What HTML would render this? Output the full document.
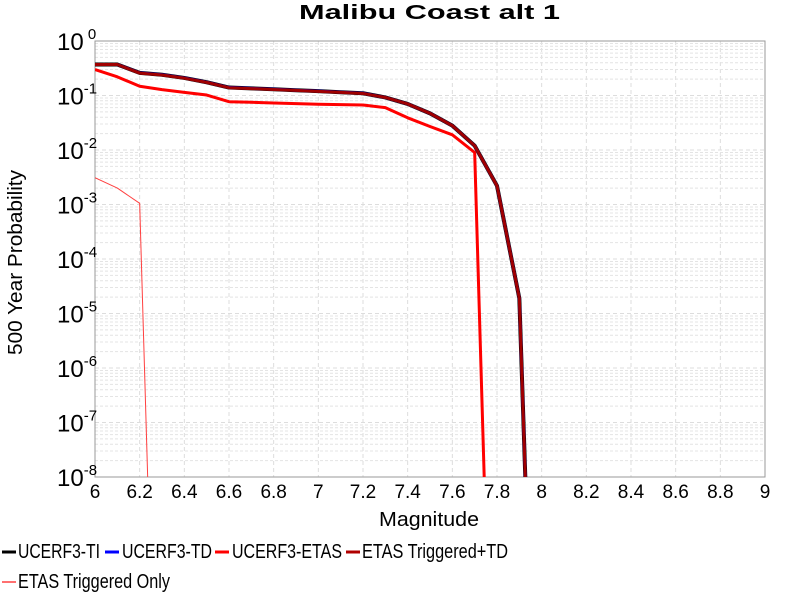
<!DOCTYPE html>
<html><head><meta charset="utf-8"><style>
html,body{margin:0;background:#fff;width:800px;height:600px;overflow:hidden}
svg{font-family:"Liberation Sans",sans-serif;display:block}
</style></head><body>
<svg id="c" width="800" height="600">
<text x="299" y="19" textLength="261" lengthAdjust="spacingAndGlyphs" font-size="20" font-weight="bold">Malibu Coast alt 1</text>
<g id="grid"></g>
<rect x="95" y="41" width="670" height="436" fill="none" stroke="#999"/>
<defs><clipPath id="clip"><rect x="95" y="41" width="670" height="436"/></clipPath></defs>
<g id="series" clip-path="url(#clip)"></g>
<g id="axes"></g>
<text x="379" y="526" textLength="100" lengthAdjust="spacingAndGlyphs" font-size="20">Magnitude</text>
<text transform="translate(22,355) rotate(-90)" textLength="185" lengthAdjust="spacingAndGlyphs" font-size="20">500 Year Probability</text>
<g font-size="20">
<g><line x1="2" y1="552" x2="16" y2="552" stroke="#000" stroke-width="3"/><text x="18" y="558" textLength="82" lengthAdjust="spacingAndGlyphs">UCERF3-TI</text></g>
<g><line x1="105" y1="552" x2="119" y2="552" stroke="#0000ff" stroke-width="3"/><text x="122" y="558" textLength="90" lengthAdjust="spacingAndGlyphs">UCERF3-TD</text></g>
<g><line x1="215" y1="552" x2="229" y2="552" stroke="#ff0000" stroke-width="3"/><text x="232" y="558" textLength="110" lengthAdjust="spacingAndGlyphs">UCERF3-ETAS</text></g>
<g><line x1="346" y1="552" x2="360" y2="552" stroke="#b00000" stroke-width="3"/><text x="362" y="558" textLength="146" lengthAdjust="spacingAndGlyphs">ETAS Triggered+TD</text></g>
<g><line x1="2" y1="582" x2="16" y2="582" stroke="#ff7070" stroke-width="2"/><text x="18" y="588" textLength="152" lengthAdjust="spacingAndGlyphs">ETAS Triggered Only</text></g>
</g>
</svg>
<script>
const mags=[6.0,6.1,6.2,6.3,6.4,6.5,6.6,6.7,6.8,6.9,7.0,7.1,7.2,7.3,7.4,7.5,7.6,7.7,7.8,7.9,8.0];
const ti=[0.37,0.37,0.26,0.24,0.21,0.175,0.14,0.135,0.13,0.125,0.12,0.115,0.11,0.092,0.07,0.047,0.028,0.012,0.0022,1.9e-5,1e-17];
const td=[0.37,0.37,0.26,0.24,0.21,0.175,0.14,0.135,0.13,0.125,0.12,0.115,0.11,0.092,0.07,0.047,0.028,0.012,0.0022,1.9e-5,1e-17];
const etas=[0.30,0.22,0.148,0.128,0.114,0.102,0.077,0.075,0.073,0.071,0.069,0.068,0.067,0.060,0.039,0.027,0.019,0.009,1e-16];
const trigTD=[0.37,0.37,0.258,0.238,0.208,0.174,0.139,0.134,0.129,0.124,0.119,0.114,0.109,0.092,0.07,0.047,0.028,0.012,0.0022,1.9e-5,1e-17];
const trigOnly=[0.0031,0.002,0.00105,1e-17];
const xTicks=["6","6.2","6.4","6.6","6.8","7","7.2","7.4","7.6","7.8","8","8.2","8.4","8.6","8.8","9"];
const yExps=["0","-1","-2","-3","-4","-5","-6","-7","-8"];
const X0=95,X1=765,Y0=41,Y1=477;
const xs=m=>X0+(m-6)/3*(X1-X0);
const ys=v=>Y0+(-Math.log10(v))/8*(Y1-Y0);
const NS="http://www.w3.org/2000/svg";
function mk(t,a,p){const e=document.createElementNS(NS,t);for(const k in a)e.setAttribute(k,a[k]);p.appendChild(e);return e;}
const grid=document.getElementById('grid'),axes=document.getElementById('axes'),ser=document.getElementById('series');
xTicks.forEach(t=>{const x=xs(+t);
 const l=mk('line',{x1:x,x2:x,y1:Y0,y2:Y1,stroke:'#ddd','stroke-dasharray':'4,3'},grid);
 
 
 const tx=mk('text',{x:x,y:498,'text-anchor':'middle','font-size':19},axes);tx.textContent=t;
 
 
});
yExps.forEach(e=>{const d=+e;const y=ys(Math.pow(10,d));
 for(let k=2;k<=9&&d>-8;k++){const yy=ys(k*Math.pow(10,d-1));
  const l=mk('line',{x1:X0,x2:X1,y1:yy,y2:yy,stroke:'#e4e4e4','stroke-dasharray':'3,2'},grid);
  
  }
 const l=mk('line',{x1:X0,x2:X1,y1:y,y2:y,stroke:'#ddd','stroke-dasharray':'4,3'},grid);
 
 
 const tx=mk('text',{x:57,y:y+9,'font-size':24},axes);
 
 
 tx.textContent='10';
 const s=mk('tspan',{dy:-11,'font-size':15},tx);s.textContent=(d===0?' ':'')+e;
});
function line(vals,color,w,name){
 const pts=vals.map((v,i)=>xs(mags[i]).toFixed(2)+','+ys(v).toFixed(2)).join(' ');
 const p=mk('polyline',{points:pts,fill:'none',stroke:color,'stroke-width':w,'stroke-linejoin':'round'},ser);
 
 
}
line(ti,'#000',4,'series-ucerf3-ti');
line(td,'#0000ff',3,'series-ucerf3-td');
line(etas,'#ff0000',3,'series-ucerf3-etas');
line(trigTD,'#a00000',3,'series-etas-triggered-td');
line(trigOnly,'#ff4040',1,'series-etas-triggered-only');
</script>
</body></html>
